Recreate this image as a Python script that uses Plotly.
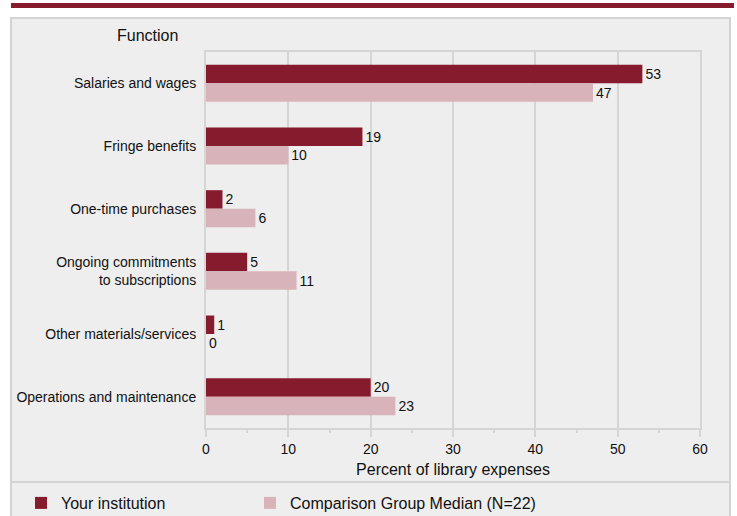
import plotly.graph_objects as go

categories = ["Salaries and wages", "Fringe benefits", "One-time purchases",
              "Ongoing commitments<br>to subscriptions", "Other materials/services",
              "Operations and maintenance"]
your_institution = [53, 19, 2, 5, 1, 20]
comparison_median = [47, 10, 6, 11, 0, 23]
series_names = ["Your institution", "Comparison Group Median (N=22)"]
x_ticks = [0, 10, 20, 30, 40, 50, 60]

W, H = 737, 516
L, R, T, B = 206, 700, 52, 428


def px(x):
    return (x - L) / (R - L)


def py(y):
    return (B - y) / (B - T)


FONT = "Liberation Sans, Arial, sans-serif"
MAROON = "#861b2d"
PINK = "#d8b3b9"
BG = "#eeeeee"
GRID = "#d5d5d5"
TXT = "#111111"

fig = go.Figure()
fig.add_trace(go.Bar(y=categories, x=your_institution, orientation="h", name=series_names[0],
                     marker=dict(color=MAROON, line=dict(width=0)),
                     text=your_institution, textposition="outside",
                     textfont=dict(size=14, color=TXT, family=FONT), cliponaxis=False,
                     legend="legend"))
fig.add_trace(go.Bar(y=categories, x=comparison_median, orientation="h", name=series_names[1],
                     marker=dict(color=PINK, line=dict(width=0)),
                     text=comparison_median, textposition="outside",
                     textfont=dict(size=14, color=TXT, family=FONT), cliponaxis=False,
                     legend="legend2"))

shapes = [
    # panel
    dict(type="rect", xref="paper", yref="paper", x0=px(11), x1=px(730), y0=py(18), y1=py(520),
         fillcolor=BG, line=dict(color="#d3d3d3", width=2), layer="below"),
    # top band
    dict(type="rect", xref="paper", yref="paper", x0=px(11), x1=px(734), y0=py(3), y1=py(8),
         fillcolor=MAROON, line=dict(width=0), layer="below"),
    # separator
    dict(type="line", xref="paper", yref="paper", x0=px(11), x1=px(730), y0=py(482), y1=py(482),
         line=dict(color="#d3d3d3", width=2), layer="below"),
]

legend_common = dict(orientation="h", xanchor="left", yanchor="middle",
                     font=dict(size=16, family=FONT, color=TXT), bgcolor="rgba(0,0,0,0)")

fig.update_layout(
    width=W, height=H,
    margin=dict(l=L, r=W - R, t=T, b=H - B, pad=0, autoexpand=False),
    paper_bgcolor="white", plot_bgcolor=BG,
    barmode="group", bargap=0.41, bargroupgap=0,
    font=dict(family=FONT, size=14, color=TXT),
    shapes=shapes,
    showlegend=True,
    legend=dict(x=px(21), y=py(503), **legend_common),
    legend2=dict(x=px(250), y=py(503), **legend_common),
    annotations=[dict(text="Function", xref="paper", yref="paper", x=px(147), y=py(36),
                      showarrow=False, xanchor="center", yanchor="middle",
                      font=dict(size=16, family=FONT, color=TXT))],
)

fig.update_xaxes(range=[0, 60], tickvals=x_ticks, ticktext=[str(v) for v in x_ticks],
                 showgrid=True, gridcolor=GRID, gridwidth=2,
                 showline=True, linecolor=GRID, linewidth=2, mirror=True,
                 ticks="outside", ticklen=7, tickwidth=2, tickcolor=GRID,
                 minor=dict(dtick=5, ticks="outside", ticklen=3, tickwidth=2, tickcolor=GRID, showgrid=False),
                 zeroline=False, tickfont=dict(size=14), ticklabelstandoff=0,
                 title=dict(text="Percent of library expenses", font=dict(size=16), standoff=8),
                 fixedrange=True)
fig.update_yaxes(autorange="reversed", showgrid=False, showline=True, linecolor=GRID,
                 linewidth=2, mirror=True, ticks="", ticklabelstandoff=5,
                 tickfont=dict(size=14), fixedrange=True)

fig.write_html("out.html", config={"displayModeBar": False},
               post_script="document.body.style.margin='0';")
